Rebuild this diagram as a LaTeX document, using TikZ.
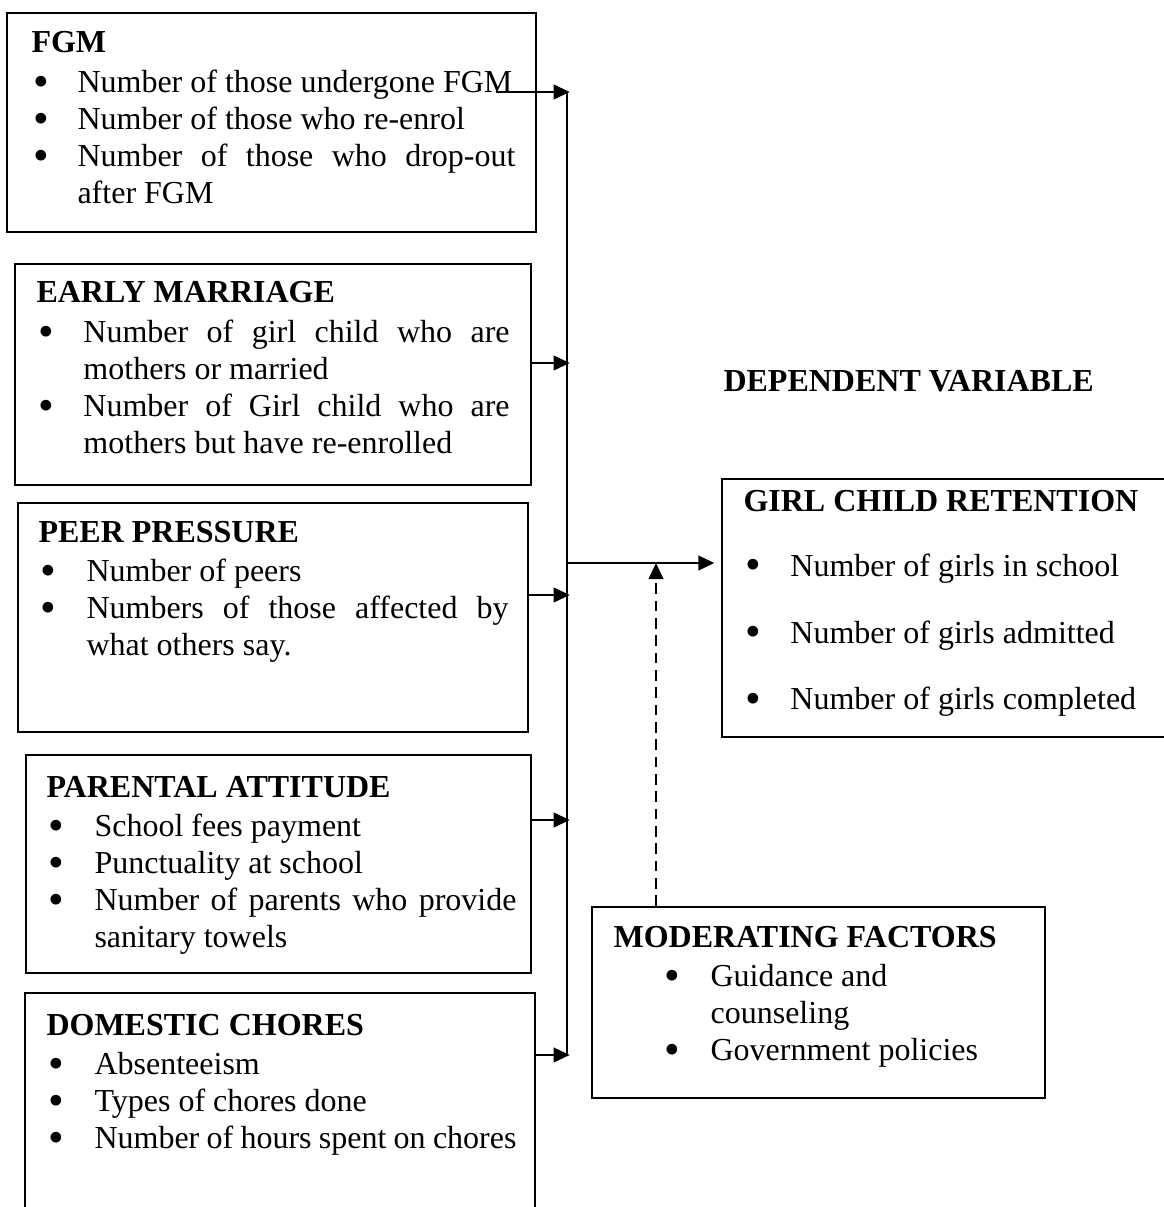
\documentclass[tikz,border=0pt]{standalone}
\usepackage{fontspec}
\setmainfont{Liberation Serif}
\usetikzlibrary{positioning,arrows.meta,fit}

\hyphenpenalty=10000
\exhyphenpenalty=10000

% a bigger bullet, as in the word processor
\newcommand{\bigbul}{\smash{\raisebox{-1.3pt}{\scalebox{1.4}{\textbullet}}}}

% bullet list used inside the boxes
\newenvironment{pts}[2][0.75pt]{%
  \begin{list}{\bigbul}{%
    \setlength{\leftmargin}{#2}\setlength{\labelwidth}{#2}%
    \setlength{\labelsep}{0pt}\setlength{\itemsep}{0pt}%
    \setlength{\parsep}{0pt}\setlength{\topsep}{1pt}%
    \setlength{\partopsep}{0pt}%
    \def\makelabel##1{\hspace*{#1}##1\hfil}}}%
  {\end{list}}

\begin{document}
\begin{tikzpicture}[
    x=0.375pt, y=-0.375pt,
    >={Triangle[length=6pt,width=5.5pt]},
    box/.style={draw=black,line width=0.75pt,inner sep=0pt},
    txt/.style={anchor=base west,inner sep=0pt,align=justify,
      font=\fontsize{12}{13.9}\selectfont},
    link/.style={->,line width=0.75pt},
    feed/.style={link,shorten >=-1pt},
    mod/.style={link,dash pattern=on 4pt off 2.5pt}
    ]

    \useasboundingbox (0,0) rectangle (1163,1207);

    % independent variables
    \node [box,fit={(7,13) (536,232)}] (fgm) {};
    \node [box,fit={(15,264) (531,485)}] (early) {};
    \node [box,fit={(18,503) (528,732)}] (peer) {};
    \node [box,fit={(26,755) (531,973)}] (parental) {};
    \node [box,fit={(25,993) (535,1215)}] (domestic) {};

    % dependent variable and moderators
    \node [box,fit={(722,479) (1166,737)}] (retention) {};
    \node [box,fit={(592,907) (1045,1098)}] (moderating) {};

    \node [txt,text width=181.5pt] (fgmtxt) at (31,53) {\textbf{FGM}
      \begin{pts}{17.25pt}
      \item Number of those undergone FGM
      \item Number of those who re-enrol
      \item Number of those who drop-out after FGM
      \end{pts}};

    \node [txt,text width=177.4pt] (earlytxt) at (36,303) {\textbf{EARLY MARRIAGE}
      \begin{pts}{17.6pt}
      \item Number of girl child who are mothers or married
      \item Number of Girl child who are mothers but have re-enrolled
      \end{pts}};

    \node [txt,text width=176.25pt] (peertxt) at (38,542) {\textbf{PEER PRESSURE}
      \begin{pts}{18pt}
      \item Number of peers
      \item Numbers of those affected by what others say.
      \end{pts}};

    \node [txt,text width=176.25pt] (partxt) at (46,797) {\textbf{PARENTAL ATTITUDE}
      \begin{pts}{18pt}
      \item School fees payment
      \item Punctuality at school
      \item Number of parents who provide sanitary towels
      \end{pts}};

    \node [txt,text width=176.25pt] (domtxt) at (46,1035) {\textbf{DOMESTIC CHORES}
      \begin{pts}{18pt}
      \item Absenteeism
      \item Types of chores done
      \item Number of hours spent on chores
      \end{pts}};

    \node [txt,text width=150pt] (rettxt) at (743,511) {\textbf{GIRL CHILD RETENTION}\par
      \vspace{9.5pt}
      \begin{pts}{17.6pt}\setlength{\itemsep}{11.2pt}
      \item Number of girls in school
      \item Number of girls admitted
      \item Number of girls completed
      \end{pts}};

    \node [txt,text width=157.5pt] (modtxt) at (613,947) {\textbf{MODERATING FACTORS}
      \begin{pts}[19pt]{36.4pt}
      \item Guidance and\newline counseling
      \item Government policies
      \end{pts}};

    \node [txt,font=\fontsize{12}{13.9}\selectfont\bfseries] (depvar) at (723,392) {DEPENDENT VARIABLE};

    % collecting line
    \coordinate (b1) at (567,92);
    \coordinate (b2) at (567,363);
    \coordinate (b3) at (567,595);
    \coordinate (b4) at (567,820);
    \coordinate (b5) at (567,1055);
    \coordinate (hub) at (567,563);
    \coordinate (fgmout) at (496,92);
    \coordinate (modin) at (656,563);

    \draw [line width=0.75pt] (b1) -- (b5);
    \draw [feed] (fgmout) -- (b1);
    \draw [feed] (early.east |- b2) -- (b2);
    \draw [feed] (peer.east |- b3) -- (b3);
    \draw [feed] (parental.east |- b4) -- (b4);
    \draw [feed] (domestic.east |- b5) -- (b5);

    % to the dependent variable
    \draw [link,shorten >=2.5pt] (hub) -- (retention.west |- hub);
    \draw [mod] (moderating.north -| modin) -- (modin);
\end{tikzpicture}
\end{document}
